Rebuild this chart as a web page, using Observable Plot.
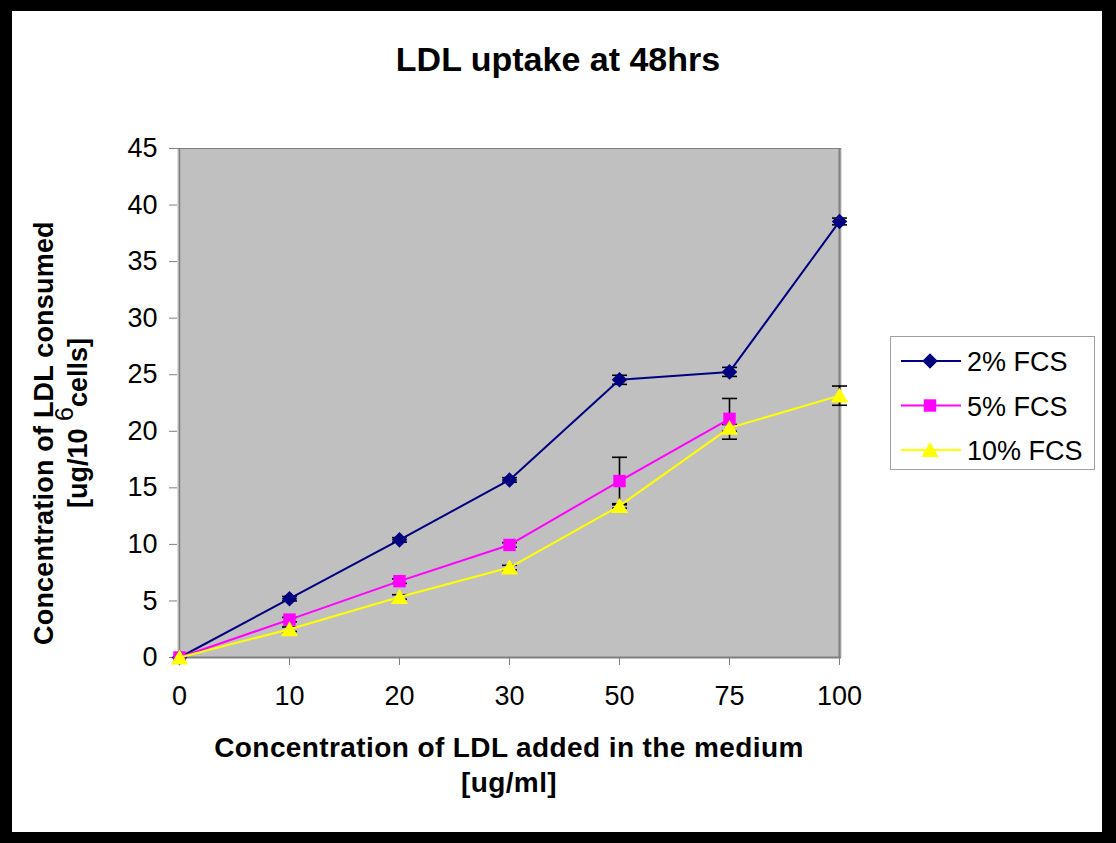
<!DOCTYPE html>
<html><head><meta charset="utf-8">
<script src="https://cdn.jsdelivr.net/npm/d3@7"></script>
<script src="https://cdn.jsdelivr.net/npm/@observablehq/plot@0.6"></script>
<style>
html,body{margin:0;padding:0;background:#000;width:1116px;height:843px;overflow:hidden;}
#wrap{position:absolute;left:12px;top:11px;width:1090px;height:821px;background:#fff;}
</style></head><body><div id="wrap"></div>
<script>
// ---- data ----
const concentrations = ["0", "10", "20", "30", "50", "75", "100"];
const yTicks = [0, 5, 10, 15, 20, 25, 30, 35, 40, 45];
const seriesNames = ["2% FCS", "5% FCS", "10% FCS"];
const fcs2 = [0, 5.2, 10.4, 15.7, 24.55, 25.25, 38.55];
const fcs5 = [0, 3.35, 6.75, 9.95, 15.6, 21.1, null];
const fcs10 = [0, 2.5, 5.35, 7.95, 13.4, 20.3, 23.15];
const err2 = [0, 0.2, 0.2, 0.2, 0.4, 0.4, 0.3];
const err5 = [0, 0.2, 0.2, 0.2, 2.1, 1.8, null];
const err10 = [0, 0.2, 0.2, 0.2, 0.2, 0.3, 0.85];
const titleText = "LDL uptake at 48hrs";
const xLabelLines = ["Concentration of LDL added in the medium", "[ug/ml]"];
const yLabelLine1 = "Concentration of LDL consumed";

// ---- styles ----
const FONT = "'Liberation Sans', Arial, Helvetica, sans-serif";
const styles = [
  {color: "#000080", symbol: "diamond2", r: 7, dy: 0},
  {color: "#FF00FF", symbol: "square", r: 7, dy: 0},
  {color: "#FFFF00", symbol: "triangle", r: 6.4, dy: 2}
];
const values = [fcs2, fcs5, fcs10];
const errs = [err2, err5, err10];

const rows = [];
seriesNames.forEach((s, k) => {
  concentrations.forEach((c, i) => {
    if (values[k][i] != null) rows.push({series: s, k, conc: c, value: values[k][i], err: errs[k][i]});
  });
});
const errRows = rows.filter(d => d.err > 0).map(d => ({...d, lo: d.value - d.err, hi: d.value + d.err}));

// horizontal cap symbol for the error bars
const capSymbol = {draw(context) { context.moveTo(-7.5, 0); context.lineTo(7.5, 0); }};

const marks = [
  Plot.frame({fill: "#C0C0C0", stroke: null}),
  Plot.ruleY([45], {stroke: "#808080", strokeWidth: 1}),
  Plot.ruleX([concentrations[0]], {stroke: "#808080", strokeWidth: 1.5}),
  Plot.ruleX([concentrations[concentrations.length - 1]], {stroke: "#808080", strokeWidth: 2}),
  Plot.ruleY([0], {stroke: "#808080", strokeWidth: 2}),
  Plot.axisX({tickSize: 8, tickPadding: 20, stroke: "#808080", fill: "black", label: null, fontSize: 27}),
  Plot.axisY({ticks: yTicks, tickSize: 8, tickPadding: 12, stroke: "#808080", fill: "black", label: null, fontSize: 27}),
  Plot.ruleX(errRows, {x: "conc", y1: "lo", y2: "hi", stroke: "black", strokeWidth: 1.6}),
  Plot.dot(errRows, {x: "conc", y: "lo", symbol: capSymbol, fill: "none", stroke: "black", strokeWidth: 1.6}),
  Plot.dot(errRows, {x: "conc", y: "hi", symbol: capSymbol, fill: "none", stroke: "black", strokeWidth: 1.6})
];
seriesNames.forEach((s, k) => {
  const data = rows.filter(d => d.series === s);
  const st = styles[k];
  marks.push(Plot.line(data, {x: "conc", y: "value", stroke: st.color, strokeWidth: 2}));
  marks.push(Plot.dot(data, {x: "conc", y: "value", symbol: st.symbol, r: st.r, fill: st.color, stroke: null, dy: st.dy}));
});

const chart = Plot.plot({
  width: 1090,
  height: 821,
  marginLeft: 165,
  marginRight: 261,
  marginTop: 137,
  marginBottom: 175,
  style: {background: "white", fontFamily: FONT, fontSize: "27px", color: "black"},
  x: {type: "point", domain: concentrations, padding: 0},
  y: {domain: [0, 45]},
  marks
});
document.getElementById("wrap").appendChild(chart);

// ---- title, axis labels, legend ----
const svg = d3.select(chart);
const g = svg.append("g").attr("font-family", FONT).attr("fill", "black");
g.append("text").attr("x", 546).attr("y", 60).attr("text-anchor", "middle")
  .attr("font-size", 34).attr("font-weight", "bold").text(titleText);
xLabelLines.forEach((t, i) => {
  g.append("text").attr("x", 497).attr("y", 746 + i * 35).attr("text-anchor", "middle")
    .attr("font-size", 28).attr("font-weight", "bold").attr("letter-spacing", 0.4).text(t);
});
g.append("text").attr("transform", "translate(41,634) rotate(-90)").attr("text-anchor", "start")
  .attr("font-size", 27).attr("font-weight", "bold").attr("letter-spacing", 0.2).text(yLabelLine1);
const l2 = g.append("text").attr("transform", "translate(75,497) rotate(-90)").attr("text-anchor", "start")
  .attr("font-size", 27).attr("font-weight", "bold");
l2.append("tspan").text("[ug/10 ");
l2.append("tspan").attr("dy", -14).attr("font-size", 25).attr("font-weight", "normal").text("6");
l2.append("tspan").attr("dy", 14).text("cells]");

const leg = svg.append("g").attr("font-family", FONT);
leg.append("rect").attr("x", 878.5).attr("y", 325.5).attr("width", 204).attr("height", 133)
  .attr("fill", "white").attr("stroke", "#A0A0A0").attr("stroke-width", 1);
const symMap = {diamond2: d3.symbolDiamond2, square: d3.symbolSquare, triangle: d3.symbolTriangle};
seriesNames.forEach((s, k) => {
  const st = styles[k];
  const cy = 350 + k * 44.5;
  leg.append("line").attr("x1", 889).attr("x2", 949).attr("y1", cy).attr("y2", cy)
    .attr("stroke", st.color).attr("stroke-width", 2);
  leg.append("path").attr("d", d3.symbol(symMap[st.symbol], Math.PI * st.r * st.r)())
    .attr("transform", `translate(918,${cy + st.dy})`).attr("fill", st.color);
  leg.append("text").attr("x", 955).attr("y", cy + 10).attr("text-anchor", "start")
    .attr("font-size", 27).attr("fill", "black").text(s);
});
</script>
</body></html>
